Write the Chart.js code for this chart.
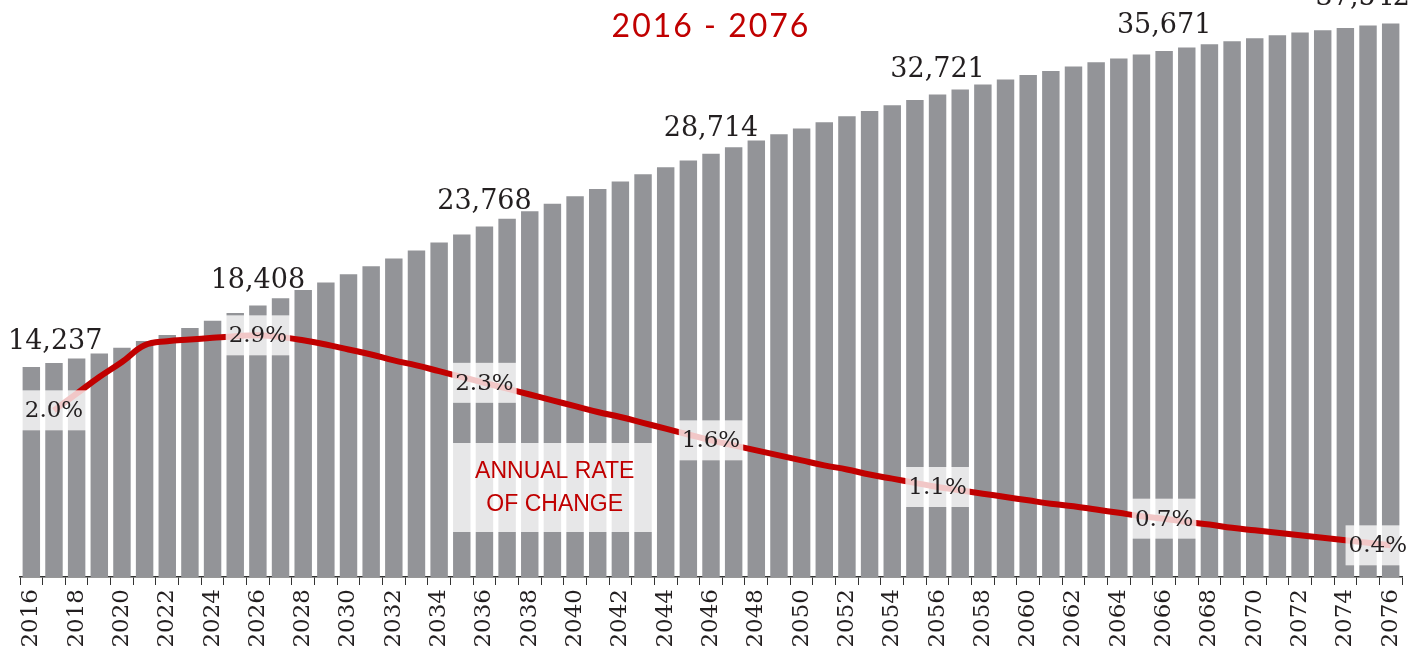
<!DOCTYPE html>
<html>
<head>
<meta charset="utf-8">
<script src="https://cdn.jsdelivr.net/npm/chart.js@4"></script>
<style>
  html, body { margin: 0; padding: 0; background: #fff; }
  #wrap { width: 1427px; height: 656px; position: relative; }
</style>
</head>
<body>
<div id="wrap"><canvas id="myChart"></canvas></div>
<script>
// years on the x axis
const years = [];
for (let y = 2016; y <= 2076; y++) years.push(String(y));

// population (bars)
const population = [
  14237, 14508, 14827, 15166, 15546, 16000, 16407, 16881, 17376, 17898,
  18408, 18915, 19458, 19980, 20542, 21085, 21607, 22149, 22692, 23234,
  23768, 24292, 24814, 25308, 25831, 26325, 26827, 27322, 27797, 28251,
  28714, 29153, 29607, 30034, 30420, 30847, 31254, 31614, 32000, 32359,
  32721, 33064, 33403, 33742, 34054, 34325, 34624, 34915, 35166, 35437,
  35671, 35912, 36136, 36339, 36542, 36746, 36928, 37085, 37241, 37403,
  37542
];

// annual rate of change in % (line), no value for the first year
const annualRate = [
  null, 2.0, 2.20, 2.40, 2.58, 2.78, 2.83, 2.85, 2.87, 2.89,
  2.90, 2.88, 2.84, 2.79, 2.73, 2.67, 2.60, 2.54, 2.47, 2.40,
  2.33, 2.26, 2.19, 2.12, 2.05, 1.98, 1.92, 1.85, 1.78, 1.71,
  1.64, 1.58, 1.52, 1.46, 1.40, 1.34, 1.29, 1.23, 1.18, 1.13,
  1.08, 1.04, 1.00, 0.96, 0.92, 0.88, 0.85, 0.81, 0.77, 0.73,
  0.70, 0.66, 0.63, 0.59, 0.56, 0.53, 0.50, 0.47, 0.44, 0.41,
  0.38
];

// which points get a label
const populationLabelIdx = [0, 10, 20, 30, 40, 50, 60];
const rateLabelIdx = [1, 10, 20, 30, 40, 50, 60];

const titleText = "2016 - 2076";
const noteLines = ["ANNUAL RATE", "OF CHANGE"];

const RED = "#c00000";
const BAR = "#939498";
const INK = "#231f20";

const annotations = {
  id: "annotations",
  afterDatasetsDraw(chart) {
    const ctx = chart.ctx;
    const area = chart.chartArea;
    const x = chart.scales.x;
    const yr = chart.scales.yRate;
    const yp = chart.scales.y;
    ctx.save();

    // rate labels with see-through boxes
    ctx.font = "23px 'DejaVu Serif'";
    ctx.textBaseline = "middle";
    ctx.textAlign = "center";
    rateLabelIdx.forEach((i) => {
      const txt = annualRate[i].toFixed(1) + "%";
      const w = ctx.measureText(txt).width + 6;
      let cx = x.getPixelForValue(i);
      cx = Math.min(cx, area.right + 8 - w / 2);
      const cy = yr.getPixelForValue(annualRate[i]);
      ctx.fillStyle = "rgba(255,255,255,0.78)";
      ctx.fillRect(cx - w / 2, cy - 20, w, 40);
      ctx.fillStyle = INK;
      ctx.fillText(txt, cx, cy + 1);
    });

    // "annual rate of change" note
    const nx1 = x.getPixelForValue(19) - 9;
    const nx2 = x.getPixelForValue(28) - 9;
    const ny1 = area.bottom - 134;
    const ny2 = area.bottom - 45;
    ctx.fillStyle = "rgba(255,255,255,0.78)";
    ctx.fillRect(nx1, ny1, nx2 - nx1, ny2 - ny1);
    ctx.fillStyle = RED;
    ctx.font = "23px 'Liberation Sans'";
    ctx.fillText(noteLines[0], (nx1 + nx2) / 2, ny1 + 29);
    ctx.fillText(noteLines[1], (nx1 + nx2) / 2, ny1 + 62);

    // population labels above bars
    ctx.font = "27px 'DejaVu Serif'";
    ctx.textBaseline = "alphabetic";
    ctx.fillStyle = INK;
    populationLabelIdx.forEach((i) => {
      const txt = population[i].toLocaleString("en-US");
      const w = ctx.measureText(txt).width;
      let cx = x.getPixelForValue(i);
      cx = Math.max(cx, 8 + w / 2);
      cx = Math.min(cx, chart.width - 17 - w / 2);
      const top = yp.getPixelForValue(population[i]);
      ctx.fillText(txt, cx, top - 18);
    });

    // title
    ctx.fillStyle = RED;
    ctx.font = "32px Lato";
    ctx.letterSpacing = "2px";
    ctx.textBaseline = "middle";
    ctx.fillText(titleText, (area.left + area.right) / 2, 27);
    ctx.restore();
  }
};

const chartCanvas = document.getElementById("myChart");
new Chart(chartCanvas, {
  type: "bar",
  data: {
    labels: years,
    datasets: [
      {
        type: "line",
        label: "Annual rate of change",
        data: annualRate,
        yAxisID: "yRate",
        borderColor: RED,
        borderWidth: 6,
        pointRadius: 0,
        tension: 0.4,
        order: 0,
      },
      {
        label: "Population",
        data: population,
        yAxisID: "y",
        backgroundColor: BAR,
        barPercentage: 0.77,
        categoryPercentage: 1.0,
        order: 1,
      },
    ],
  },
  options: {
    responsive: true,
    maintainAspectRatio: false,
    animation: false,
    layout: { padding: { left: 20, right: 25, top: 2, bottom: 0 } },
    plugins: {
      legend: { display: false },
      tooltip: { enabled: false },
    },
    scales: {
      x: {
        offset: true,
        afterFit: (scale) => { scale.height = 79; },
        border: { display: true, color: "#333", width: 1.5 },
        grid: {
          offset: true,
          drawOnChartArea: false,
          drawTicks: true,
          tickLength: 8,
          color: "#333",
        },
        ticks: {
          autoSkip: false,
          minRotation: 90,
          maxRotation: 90,
          padding: 4,
          color: INK,
          font: { family: "DejaVu Serif", size: 23 },
          callback: (v, i) => (i % 2 === 0 ? years[i] : ""),
        },
      },
      y: {
        display: false,
        min: 0,
        max: 39000,
      },
      yRate: {
        display: false,
        min: 0,
        max: 6.9,
      },
    },
  },
  plugins: [annotations],
});
</script>
</body>
</html>
